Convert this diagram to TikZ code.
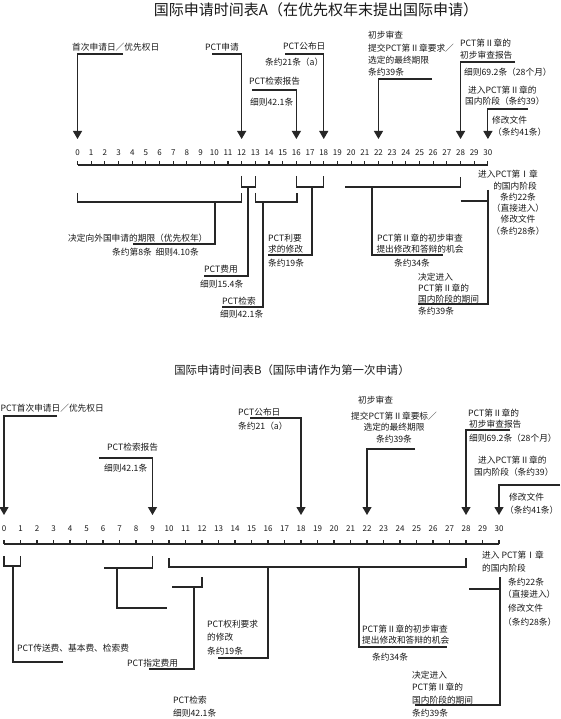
\documentclass[tikz,border=0pt]{standalone}
\usepackage{fontspec}
\setmainfont{Noto Sans CJK SC}
\usetikzlibrary{arrows.meta}
\tikzset{
 lbl/.style={inner sep=0pt, anchor=west, font=\fontsize{8.7}{11}\selectfont, text=black!90},
 lblc/.style={lbl, anchor=center},
 num/.style={inner sep=0pt, font=\fontsize{8}{9}\selectfont, text=black!90},
 ttl/.style={inner sep=0pt, text=black!90},
 ln/.style={line width=1.1pt, draw=black!85},
 arr/.style={ln, -{Triangle[width=9pt,length=8pt]}},
}
\begin{document}
\begin{tikzpicture}[x=1pt,y=-1pt]
\fill[white] (0,0) rectangle (560,719);
\useasboundingbox (0,0) rectangle (560,719);
% ---------- Timeline A ----------
\node[ttl, font=\fontsize{15}{16}\selectfont] (tA) at (316,10) {国际申请时间表A（在优先权年末提出国际申请）};
\foreach \i in {0,...,30}{
 \pgfmathsetmacro\xx{77.5+13.68*\i}
 \coordinate (A\i) at (\xx,165);
 \coordinate (At\i) at (\xx,139);
 \node[num] (An\i) at (\xx,153) {\i};
 \draw[ln] (\xx,165) -- (\xx,161);
}
\draw[ln] (A0) -- (A30);
% arrows above
\node[lbl] (a0t) at (72,47) {首次申请日／优先权日};
\draw[arr] (123,54) -| (At0);
\node[lbl] (a12t) at (205,47) {PCT申请};
\draw[arr] (212,54) -| (At12);
\node[lbl] (a16t) at (249,81) {PCT检索报告};
\node[lbl] (a16r) at (250,102) {细则42.1条};
\draw[arr] (252,90) -| (At16);
\node[lbl] (a18t) at (283,46) {PCT公布日};
\node[lbl] (a18r) at (265,62) {条约21条（a）};
\draw[arr] (285,54) -| (At18);
\node[lbl] (a22t1) at (368,35) {初步审查};
\node[lbl] (a22t2) at (368,48) {提交PCT第Ⅱ章要求／};
\node[lbl] (a22t3) at (368,60) {选定的最终期限};
\node[lbl] (a22t4) at (368,72) {条约39条};
\draw[arr] (432,79) -| (At22);
\node[lbl] (a28t1) at (460,43) {PCT第Ⅱ章的};
\node[lbl] (a28t2) at (460,55) {初步审查报告};
\node[lbl] (a28t3) at (464,72) {细则69.2条（28个月）};
\draw[arr] (515,62) -| (At28);
\node[lbl] (a30t1) at (468,90) {进入PCT第Ⅱ章的};
\node[lbl] (a30t2) at (465,101) {国内阶段（条约39）};
\draw[arr] (528,109) -| (At30);
\node[lbl] (a30r1) at (492,120) {修改文件};
\node[lbl] (a30r2) at (493,132) {（条约41条）};
% brackets below
\draw[ln] (77.5,193) -- (77.5,202) -- (241.7,202) -- (241.7,193);
\draw[ln] (215,202) -- (215,244) -- (133,244);
\node[lbl] (b1t) at (68,238) {决定向外国申请的期限（优先权年）};
\node[lbl] (b1r) at (112,252) {条约第8条\ \ 细则4.10条};
\draw[ln] (241.7,176) -- (241.7,187) -- (255.3,187) -- (255.3,176);
\draw[ln] (248,187) -- (248,276) -- (204,276);
\node[lbl] (b2t) at (204,269) {PCT费用};
\node[lbl] (b2r) at (200,284) {细则15.4条};
\draw[ln] (255.3,193) -- (255.3,202) -- (297,202) -- (297,193);
\draw[ln] (263,202) -- (263,307) -- (222,307);
\node[lbl] (b3t) at (222,301) {PCT检索};
\node[lbl] (b3r) at (220,314) {细则42.1条};
\draw[ln] (296.4,176) -- (296.4,187) -- (323.7,187) -- (323.7,176);
\draw[ln] (312,187) -- (312,255) -- (268,255);
\node[lbl] (b4t1) at (268,238) {PCT利要};
\node[lbl] (b4t2) at (268,249) {求的修改};
\node[lbl] (b4t3) at (268,263) {条约19条};
\draw[ln] (345,187) -- (460.5,187) -- (460.5,177);
\draw[ln] (372,187) -- (372,255) -- (443,255);
\node[lblc] (b5t1) at (420,238) {PCT第Ⅱ章的初步审查};
\node[lblc] (b5t2) at (420,249) {提出修改和答辩的机会};
\node[lblc] (b5t3) at (412,263) {条约34条};
\draw[ln] (460.5,201) -- (488,201);
\draw[ln] (488,190) -- (488,304) -- (418,304);
\node[lbl] (b6t1) at (418,277) {决定进入};
\node[lbl] (b6t2) at (418,288) {PCT第Ⅱ章的};
\node[lbl] (b6t3) at (418,299) {国内阶段的期间};
\node[lbl] (b6t4) at (418,311) {条约39条};
\node[lbl] (b7t1) at (478,174) {进入PCT第Ⅰ章};
\node[lblc] (b7t2) at (515,186) {的国内阶段};
\node[lblc] (b7t3) at (518,197) {条约22条};
\node[lblc] (b7t4) at (518,208) {（直接进入）};
\node[lblc] (b7t5) at (518,219) {修改文件};
\node[lblc] (b7t6) at (518,231) {（条约28条）};
% ---------- Timeline B ----------
\node[ttl, font=\fontsize{11.4}{13}\selectfont] (tB) at (292,370) {国际申请时间表B（国际申请作为第一次申请）};
\foreach \i in {0,...,30}{
 \pgfmathsetmacro\xx{4+16.5*\i}
 \coordinate (B\i) at (\xx,544);
 \coordinate (Bt\i) at (\xx,515);
 \node[num] (Bn\i) at (\xx,529) {\i};
 \draw[ln] (\xx,544) -- (\xx,540);
}
\draw[ln] (B0) -- (B30);
\node[lbl] (c0t) at (0.5,408) {PCT首次申请日／优先权日};
\draw[arr] (57,416) -| (Bt0);
\node[lbl] (c9t) at (107,447) {PCT检索报告};
\node[lbl] (c9r) at (104,468) {细则42.1条};
\draw[arr] (99,458) -| (Bt9);
\node[lbl] (c18t) at (238,412) {PCT公布日};
\node[lbl] (c18r) at (238,426) {条约21（a）};
\draw[arr] (250,418) -| (Bt18);
\node[lbl] (c22t1) at (358,400) {初步审查};
\node[lblc] (c22t2) at (394,416) {提交PCT第Ⅱ章要标／};
\node[lblc] (c22t3) at (394,427) {选定的最终期限};
\node[lblc] (c22t4) at (394,439) {条约39条};
\draw[arr] (415,449) -| (Bt22);
\node[lbl] (c28t1) at (468,413) {PCT第Ⅱ章的};
\node[lbl] (c28t2) at (469,424) {初步审查报告};
\node[lbl] (c28t3) at (469,438) {细则69.2条（28个月）};
\draw[arr] (510,430) -| (Bt28);
\node[lbl] (c30t1) at (478,460) {进入PCT第Ⅱ章的};
\node[lbl] (c30t2) at (474,472) {国内阶段（条约39）};
\draw[arr] (560,485) -| (Bt30);
\node[lbl] (c30r1) at (509,497) {修改文件};
\node[lbl] (c30r2) at (505,510) {（条约41条）};
% brackets below B
\draw[ln] (4,556) -- (4,566) -- (20.5,566) -- (20.5,556);
\draw[ln] (13,566) -- (13,662) -- (63,662);
\node[lbl] (d1t) at (17,648) {PCT传送费、基本费、检索费};
\draw[ln] (104,568) -- (152.5,568) -- (152.5,556);
\draw[ln] (117,568) -- (117,608) -- (167,608);
\draw[ln] (202,577) -- (202,587) -- (172,587);
\draw[ln] (194,587) -- (194,669) -- (149,669);
\node[lbl] (d3t) at (127,663) {PCT指定费用};
\draw[ln] (169,558) -- (169,567) -- (466,567) -- (466,558);
\draw[ln] (268,567) -- (268,658) -- (218,658);
\node[lbl] (d4t1) at (207,624) {PCT权利要求};
\node[lbl] (d4t2) at (207,637) {的修改};
\node[lbl] (d4t3) at (207,651) {条约19条};
\draw[ln] (359,567) -- (359,647) -- (447,647);
\node[lbl] (d5t1) at (362,629) {PCT第Ⅱ章的初步审查};
\node[lbl] (d5t2) at (362,640) {提出修改和答辩的机会};
\node[lbl] (d5t3) at (372,657) {条约34条};
\draw[ln] (469,589) -- (500,589);
\draw[ln] (500,577) -- (500,705) -- (415,705);
\node[lbl] (d6t1) at (412,675) {决定进入};
\node[lbl] (d6t2) at (412,687) {PCT第Ⅱ章的};
\node[lbl] (d6t3) at (412,700) {国内阶段的期间};
\node[lbl] (d6t4) at (412,713) {条约39条};
\node[lbl] (d7t1) at (173,700) {PCT检索};
\node[lbl] (d7t2) at (173,713) {细则42.1条};
\node[lbl] (d8t1) at (482,555) {进入\ PCT第Ⅰ章};
\node[lbl] (d8t2) at (482,568) {的国内阶段};
\node[lbl] (d8t3) at (508,582) {条约22条};
\node[lbl] (d8t4) at (503,594) {（直接进入）};
\node[lbl] (d8t5) at (508,608) {修改文件};
\node[lbl] (d8t6) at (503,622) {（条约28条）};
\end{tikzpicture}
\end{document}
